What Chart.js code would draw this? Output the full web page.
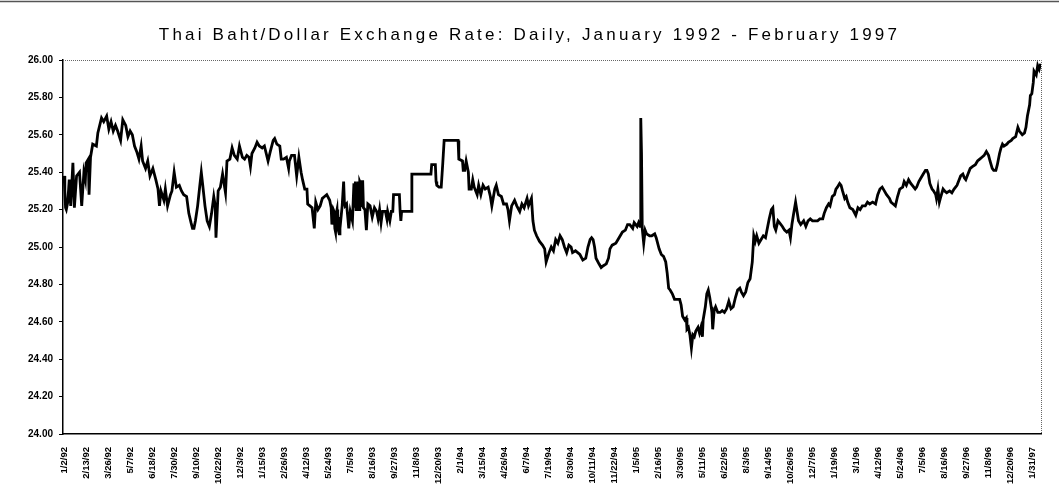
<!DOCTYPE html>
<html><head><meta charset="utf-8">
<script src="https://cdn.jsdelivr.net/npm/chart.js@4/dist/chart.umd.min.js"></script>
<style>html,body{margin:0;padding:0;background:#fff;} #wrap{width:1059px;height:495px;position:relative;}</style>
</head><body><div id="wrap"><canvas id="c"></canvas></div>
<script>
const titleText = 'Thai Baht/Dollar Exchange Rate: Daily, January 1992 - February 1997';
const tickLabels = ['1/2/92','2/13/92','3/26/92','5/7/92','6/18/92','7/30/92','9/10/92','10/22/92','12/3/92','1/15/93','2/26/93','4/12/93','5/24/93','7/5/93','8/16/93','9/27/93','11/8/93','12/20/93','2/1/94','3/15/94','4/26/94','6/7/94','7/19/94','8/30/94','10/11/94','11/22/94','1/5/95','2/16/95','3/30/95','5/11/95','6/22/95','8/3/95','9/14/95','10/26/95','12/7/95','1/19/96','3/1/96','4/12/96','5/24/96','7/5/96','8/16/96','9/27/96','11/8/96','12/20/96','1/31/97'];
const yTicks = [24.00,24.20,24.40,24.60,24.80,25.00,25.20,25.40,25.60,25.80,26.00];
// trading day number counted from 1/2/92 (labels are every 30 trading days)
const tradingDay = [0,1,2,3,5,7,9,12,14,17,21,24,27,29,30,33,34,36,39,44,46,51,54,58,61,64,67,70,73,77,80,84,87,90,93,96,99,102,105,107,111,114,117,121,125,128,130,132,136,138,141,145,147,150,153,157,160,163,167,170,173,175,177,179,182,185,187,189,192,195,198,201,204,206,207,210,213,216,220,222,226,229,232,236,239,243,246,249,252,254,256,260,263,266,270,273,278,281,285,287,290,294,296,299,303,306,307,310,314,317,320,323,325,328,331,332,335,338,341,343,346,349,352,355,358,362,364,365,367,368,369,370,371,372,373,375,376,377,379,381,382,383,385,388,390,393,395,396,397,398,399,400,401,402,403,404,405,406,407,408,410,412,414,417,420,423,426,428,430,432,434,438,440,441,444,446,448,449,457,458,459,460,473,474,500,501,506,507,508,511,514,516,518,537,538,543,544,546,548,551,552,555,557,559,563,565,568,571,574,578,581,583,587,589,592,596,599,603,605,607,610,614,617,621,624,627,631,633,637,639,641,644,648,652,655,657,661,664,667,670,673,676,679,682,685,688,691,693,697,700,703,707,711,714,717,719,721,723,725,729,732,735,739,742,744,747,752,755,758,761,765,768,771,775,777,781,783,785,786,787,788,790,792,794,798,801,805,807,811,814,817,820,822,824,826,829,832,835,839,841,843,846,848,849,851,853,855,857,859,861,864,866,868,870,871,874,876,878,880,882,883,884,886,888,891,894,897,900,903,906,909,912,915,918,921,923,926,929,932,935,938,940,942,944,947,950,953,956,959,961,964,966,968,970,973,975,979,982,985,988,990,992,994,997,999,1001,1004,1008,1011,1014,1017,1020,1024,1027,1030,1034,1036,1039,1042,1044,1047,1050,1052,1054,1057,1059,1061,1064,1066,1068,1071,1075,1079,1082,1085,1088,1092,1095,1098,1102,1106,1109,1112,1115,1118,1121,1125,1127,1130,1133,1136,1139,1143,1145,1148,1151,1154,1158,1160,1162,1165,1168,1171,1174,1176,1178,1180,1183,1185,1188,1189,1191,1193,1195,1198,1200,1203,1207,1210,1213,1217,1219,1222,1225,1227,1229,1232,1235,1238,1242,1245,1248,1251,1254,1257,1260,1262,1265,1267,1270,1272,1275,1277,1279,1281,1285,1287,1291,1293,1297,1300,1302,1306,1309,1311,1313,1316,1317,1319,1321,1322,1325,1327,1329,1331];
const bahtPerDollar = [25.38,25.30,25.21,25.20,25.24,25.36,25.22,25.45,25.21,25.38,25.40,25.22,25.40,25.36,25.45,25.47,25.28,25.48,25.55,25.54,25.61,25.69,25.67,25.70,25.63,25.67,25.62,25.65,25.62,25.57,25.68,25.65,25.59,25.62,25.60,25.54,25.51,25.47,25.54,25.46,25.42,25.46,25.38,25.42,25.36,25.31,25.22,25.30,25.25,25.31,25.22,25.28,25.30,25.40,25.32,25.33,25.30,25.28,25.27,25.18,25.13,25.10,25.10,25.14,25.22,25.33,25.40,25.33,25.22,25.14,25.11,25.18,25.27,25.22,25.05,25.30,25.32,25.39,25.29,25.46,25.47,25.53,25.49,25.47,25.54,25.48,25.47,25.49,25.48,25.43,25.50,25.53,25.56,25.54,25.53,25.54,25.46,25.51,25.57,25.58,25.55,25.54,25.47,25.47,25.48,25.42,25.46,25.49,25.49,25.38,25.48,25.40,25.36,25.31,25.31,25.23,25.22,25.21,25.10,25.24,25.20,25.22,25.26,25.27,25.28,25.25,25.21,25.12,25.20,25.19,25.10,25.08,25.18,25.20,25.10,25.07,25.16,25.14,25.22,25.35,25.24,25.22,25.23,25.10,25.19,25.14,25.34,25.21,25.35,25.20,25.34,25.22,25.35,25.20,25.35,25.34,25.22,25.35,25.35,25.21,25.20,25.09,25.23,25.22,25.16,25.21,25.19,25.15,25.20,25.13,25.19,25.19,25.15,25.19,25.14,25.19,25.19,25.28,25.28,25.19,25.14,25.19,25.19,25.39,25.39,25.44,25.44,25.35,25.33,25.32,25.32,25.44,25.57,25.57,25.47,25.46,25.41,25.41,25.46,25.40,25.31,25.31,25.36,25.32,25.28,25.33,25.28,25.33,25.31,25.32,25.27,25.22,25.31,25.33,25.28,25.27,25.23,25.23,25.20,25.14,25.22,25.25,25.22,25.19,25.23,25.21,25.26,25.22,25.26,25.14,25.09,25.06,25.03,25.01,24.99,24.92,24.97,25.00,24.98,25.04,25.02,25.06,25.04,25.00,24.97,25.01,25.00,24.97,24.98,24.97,24.96,24.93,24.94,25.00,25.04,25.05,25.04,25.00,24.94,24.91,24.89,24.90,24.91,24.94,24.99,25.01,25.02,25.04,25.06,25.08,25.09,25.12,25.12,25.10,25.13,25.11,25.13,25.11,25.69,25.50,25.10,25.02,25.09,25.07,25.06,25.06,25.07,25.05,24.99,24.96,24.95,24.92,24.86,24.78,24.77,24.75,24.72,24.72,24.72,24.69,24.63,24.61,24.62,24.56,24.57,24.53,24.46,24.53,24.52,24.55,24.57,24.54,24.57,24.52,24.61,24.68,24.75,24.77,24.73,24.68,24.65,24.56,24.66,24.68,24.65,24.65,24.66,24.65,24.67,24.71,24.67,24.68,24.73,24.77,24.78,24.76,24.74,24.76,24.81,24.83,24.92,25.06,25.03,25.06,25.02,25.04,25.06,25.05,25.11,25.15,25.20,25.21,25.11,25.09,25.14,25.13,25.11,25.09,25.08,25.09,25.05,25.12,25.17,25.24,25.19,25.14,25.12,25.14,25.11,25.14,25.15,25.14,25.14,25.14,25.15,25.15,25.18,25.21,25.23,25.22,25.27,25.28,25.31,25.32,25.34,25.33,25.30,25.26,25.27,25.24,25.21,25.20,25.17,25.21,25.20,25.22,25.22,25.24,25.23,25.24,25.23,25.28,25.31,25.32,25.30,25.28,25.26,25.24,25.23,25.22,25.27,25.31,25.32,25.35,25.33,25.36,25.34,25.32,25.31,25.32,25.35,25.37,25.39,25.41,25.41,25.39,25.34,25.31,25.30,25.28,25.26,25.31,25.24,25.27,25.31,25.30,25.29,25.30,25.29,25.31,25.33,25.35,25.38,25.39,25.37,25.36,25.39,25.42,25.43,25.44,25.46,25.47,25.48,25.49,25.51,25.49,25.46,25.42,25.41,25.41,25.44,25.50,25.53,25.55,25.54,25.55,25.56,25.57,25.58,25.59,25.64,25.62,25.60,25.61,25.64,25.70,25.76,25.81,25.82,25.88,25.94,25.92,25.97,25.95,25.98];

const FONT = "'Liberation Sans', Arial, sans-serif";
const points = tradingDay.map((d, i) => ({ x: d, y: bahtPerDollar[i] }));

const spacedTitle = {
  id: 'spacedTitle',
  beforeDraw(chart) {
    const tb = chart.titleBlock;
    if (tb && !tb.__wrapped) {
      const orig = tb.draw;
      tb.draw = function (...a) {
        const ctx = this.ctx;
        ctx.save();
        ctx.translate(9, 0);
        ctx.letterSpacing = '3.2px';
        orig.apply(this, a);
        ctx.restore();
      };
      tb.__wrapped = true;
    }
  }
};

const frame = {
  id: 'frame',
  beforeDatasetsDraw(chart) {
    const { ctx, chartArea: a } = chart;
    ctx.save();
    ctx.strokeStyle = '#666';
    ctx.lineWidth = 1;
    ctx.setLineDash([1, 1]);
    ctx.beginPath();
    ctx.moveTo(a.left, a.top + 0.5);
    ctx.lineTo(a.right + 0.5, a.top + 0.5);
    ctx.lineTo(a.right + 0.5, a.bottom);
    ctx.stroke();
    ctx.restore();
  },
  afterDraw(chart) {
    const ctx = chart.ctx;
    ctx.save();
    ctx.strokeStyle = '#555';
    ctx.lineWidth = 1.5;
    ctx.beginPath();
    ctx.moveTo(0, 1.5);
    ctx.lineTo(chart.width, 1.5);
    ctx.stroke();
    ctx.restore();
  }
};

new Chart(document.getElementById('c'), {
  type: 'line',
  data: {
    datasets: [{
      label: 'Baht per Dollar',
      data: points,
      borderColor: '#000',
      borderWidth: 2.8,
      pointRadius: 0,
      fill: false,
      tension: 0
    }]
  },
  options: {
    responsive: true,
    maintainAspectRatio: false,
    animation: false,
    devicePixelRatio: 1,
    layout: { padding: { left: 0, right: 18, top: 0, bottom: 0 } },
    plugins: {
      legend: { display: false },
      tooltip: { enabled: false },
      title: {
        display: true,
        text: titleText,
        color: '#000',
        font: { family: FONT, size: 17, weight: 'normal' },
        padding: { top: 25, bottom: 14.6 }
      }
    },
    scales: {
      x: {
        type: 'linear',
        min: -1.5,
        max: 1331.5,
        afterBuildTicks: s => { s.ticks = tickLabels.map((_, i) => ({ value: i * 30 })); },
        afterFit: s => { s.height = 61; },
        ticks: {
          autoSkip: false,
          maxRotation: 90,
          minRotation: 90,
          padding: 5,
          color: '#000',
          font: { family: FONT, size: 9.5, weight: 'bold' },
          callback: v => tickLabels[Math.round(v / 30)]
        },
        grid: { display: false },
        border: { display: true, color: '#000', width: 1.5 }
      },
      y: {
        min: 24,
        max: 26,
        afterBuildTicks: s => { s.ticks = yTicks.map(v => ({ value: v })); },
        afterFit: s => { s.width = 63; },
        ticks: {
          padding: 6,
          color: '#000',
          font: { family: FONT, size: 10, weight: 'bold' },
          callback: v => Number(v).toFixed(2)
        },
        grid: { drawOnChartArea: false, drawTicks: true, tickLength: 4, color: '#000', lineWidth: 1 },
        border: { display: true, color: '#000', width: 1.5 }
      }
    }
  },
  plugins: [spacedTitle, frame]
});
</script>
</body></html>
